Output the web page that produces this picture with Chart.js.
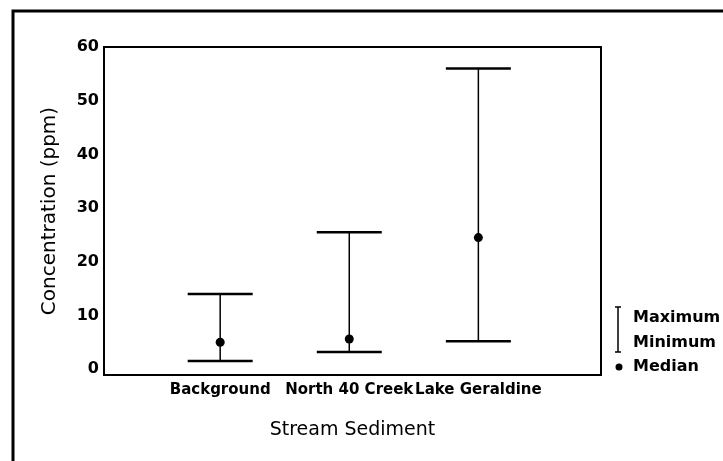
<!DOCTYPE html>
<html>
<head>
<meta charset="utf-8">
<script src="https://cdn.jsdelivr.net/npm/chart.js@4.4.0/dist/chart.umd.min.js"></script>
<style>
  html, body { margin: 0; padding: 0; background: #fff; }
  #wrap { position: relative; width: 723px; height: 461px; }
</style>
</head>
<body>
<div id="wrap"><canvas id="c"></canvas></div>
<script>
// ---- data ----
const categories = ['Background', 'North 40 Creek', 'Lake Geraldine'];
const maxVals = [14, 25.5, 56];
const minVals = [1.5, 3.2, 5.2];
const medianVals = [5, 5.6, 24.5];
const yTickValues = [0, 10, 20, 30, 40, 50, 60];
const legendLabels = ['Maximum', 'Minimum', 'Median'];

const positions = categories.map((c, i) => i + 1);

const rangeData = [];
positions.forEach((p, i) => {
  rangeData.push({x: p, y: minVals[i]});
  rangeData.push({x: p, y: maxVals[i]});
  rangeData.push({x: p + 0.5, y: null});
});
const capData = [];
positions.forEach((p, i) => {
  capData.push({x: p, y: maxVals[i]});
  capData.push({x: p, y: minVals[i]});
});
const medianData = positions.map((p, i) => ({x: p, y: medianVals[i]}));

const FONT = "'DejaVu Sans', sans-serif";

const framePlugin = {
  id: 'frame',
  beforeDraw(chart) {
    const ctx = chart.ctx;
    ctx.save();
    ctx.fillStyle = '#fff';
    ctx.fillRect(0, 0, chart.width, chart.height);
    // outer page border (left and top only)
    ctx.strokeStyle = '#000';
    ctx.lineWidth = 3;
    ctx.beginPath();
    ctx.moveTo(13, chart.height);
    ctx.lineTo(13, 11);
    ctx.lineTo(chart.width, 11);
    ctx.stroke();
    ctx.restore();
  },
  afterDatasetsDraw(chart) {
    const {ctx, chartArea: a} = chart;
    ctx.save();
    ctx.strokeStyle = '#000';
    ctx.lineWidth = 2;
    ctx.strokeRect(a.left, a.top, a.right - a.left, a.bottom - a.top);
    ctx.restore();
  },
  afterDraw(chart) {
    const ctx = chart.ctx;
    const a = chart.chartArea;
    const lx = a.right + 17;
    const tx = a.right + 32;
    const ys = [318, 343, 367];
    ctx.save();
    ctx.strokeStyle = '#000';
    ctx.fillStyle = '#000';
    ctx.lineWidth = 1.5;
    ctx.beginPath();
    ctx.moveTo(lx, ys[0] - 11); ctx.lineTo(lx, ys[1] + 9);
    ctx.moveTo(lx - 3, ys[0] - 11); ctx.lineTo(lx + 3, ys[0] - 11);
    ctx.moveTo(lx - 3, ys[1] + 9); ctx.lineTo(lx + 3, ys[1] + 9);
    ctx.stroke();
    ctx.beginPath();
    ctx.arc(lx + 1, ys[2], 3.5, 0, Math.PI * 2);
    ctx.fill();
    ctx.font = 'bold 16px ' + FONT;
    ctx.textBaseline = 'middle';
    ctx.textAlign = 'left';
    legendLabels.forEach((t, i) => ctx.fillText(t, tx, ys[i]));
    ctx.restore();
  }
};

new Chart(document.getElementById('c'), {
  type: 'scatter',
  data: {
    datasets: [
      {
        type: 'line',
        data: rangeData,
        borderColor: '#000',
        borderWidth: 1.5,
        pointRadius: 0,
        spanGaps: false,
        fill: false
      },
      {
        data: capData,
        pointStyle: 'line',
        radius: 32.5,
        borderColor: '#000',
        borderWidth: 2.5
      },
      {
        data: medianData,
        pointStyle: 'circle',
        radius: 4.5,
        backgroundColor: '#000',
        borderColor: '#000',
        borderWidth: 0
      }
    ]
  },
  options: {
    responsive: true,
    maintainAspectRatio: false,
    animation: false,
    events: [],
    layout: { padding: { top: 47, right: 122, left: 0, bottom: 0 } },
    plugins: { legend: { display: false }, tooltip: { enabled: false } },
    scales: {
      x: {
        type: 'linear',
        min: 0.1,
        max: 3.95,
        grid: { display: false, drawTicks: false },
        border: { display: false },
        afterFit(s) { s.height = 86; },
        afterBuildTicks(s) { s.ticks = positions.map(v => ({value: v})); },
        ticks: {
          padding: 6,
          color: '#000',
          maxRotation: 0,
          autoSkip: false,
          font: { family: FONT, size: 15, weight: 'bold' },
          callback: (v) => categories[v - 1]
        },
        title: {
          display: true,
          text: 'Stream Sediment',
          color: '#000',
          padding: { bottom: 20 },
          font: { family: FONT, size: 19 }
        }
      },
      y: {
        min: -1.1,
        max: 60,
        grid: { display: false, drawTicks: false },
        border: { display: false },
        afterFit(s) { s.width = 104; },
        afterBuildTicks(s) { s.ticks = yTickValues.map(v => ({value: v})); },
        ticks: {
          padding: 5,
          color: '#000',
          font: { family: FONT, size: 16, weight: 'bold' }
        },
        title: {
          display: true,
          text: 'Concentration (ppm)',
          color: '#000',
          padding: { top: 38 },
          font: { family: FONT, size: 20 }
        }
      }
    }
  },
  plugins: [framePlugin]
});
</script>
</body>
</html>
